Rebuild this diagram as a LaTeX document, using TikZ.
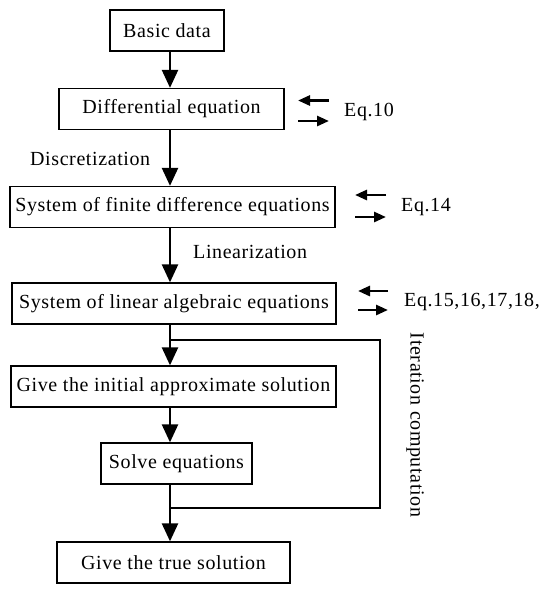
\documentclass[tikz,border=0pt]{standalone}
\usepackage{fontspec}
\setmainfont{Liberation Serif}[LetterSpace=3]
\usetikzlibrary{arrows.meta}
\begin{document}
\begin{tikzpicture}[x=1pt,y=-1pt,
  box/.style={draw,line width=1.3pt,minimum height=41pt,inner sep=0pt,font=\fontsize{20}{22}\selectfont},
  lbl/.style={font=\fontsize{20}{22}\selectfont,inner sep=0pt},
  flow/.style={line width=2.4pt,-{Triangle[length=18pt,width=16pt]}},
  small/.style={line width=2.7pt,-{Triangle[length=12pt,width=10pt]}},
  loop/.style={line width=1.5pt}]
\useasboundingbox (0,0) rectangle (550,595);
\node[box,minimum width=114pt] (b1) at (167,30.5) {Basic data};
\node[box,minimum width=225pt] (b2) at (171.5,109) {Differential equation};
\node[box,minimum width=325pt] (b3) at (172.5,207) {System of finite difference equations};
\node[box,minimum width=324pt] (b4) at (174,303.5) {System of linear algebraic equations};
\node[box,minimum width=325pt] (b5) at (173.5,386.5) {Give the initial approximate solution};
\node[box,minimum width=151pt] (b6) at (176.5,463.5) {Solve equations};
\node[box,minimum width=233pt] (b7) at (173.5,562.5) {Give the true solution};
\coordinate (sp) at (170,0);
\draw[flow] (b1.south -| sp) -- (b2.north -| sp);
\draw[flow] (b2.south -| sp) -- (b3.north -| sp);
\draw[flow] (b3.south -| sp) -- (b4.north -| sp);
\draw[flow] (b4.south -| sp) -- (b5.north -| sp);
\draw[flow] (b5.south -| sp) -- (b6.north -| sp);
\draw[flow] (b6.south -| sp) -- (b7.north -| sp);
\node[lbl,anchor=west] (disc) at (30,159) {Discretization};
\node[lbl,anchor=west] (lin) at (193,252) {Linearization};
% loop
\coordinate (l1) at (170,340);
\coordinate (l2) at (380,340);
\coordinate (l3) at (380,508);
\coordinate (l4) at (170,508);
\draw[loop] (l1) -- (l2) -- (l3) -- (l4);
\node[lbl,rotate=-90] (iter) at (415,425) {Iteration computation};
% equation arrows
\coordinate (a1l) at (298,100.5); \coordinate (a1r) at (329,100.5);
\coordinate (a2l) at (298,121); \coordinate (a2r) at (329,121);
\draw[small] (a1r) -- (a1l);
\draw[small] (a2l) -- (a2r);
\node[lbl,anchor=west] (e1) at (344,112) {Eq.10};
\coordinate (c1l) at (355,195); \coordinate (c1r) at (386,195);
\coordinate (c2l) at (355,217); \coordinate (c2r) at (386,217);
\draw[small] (c1r) -- (c1l);
\draw[small] (c2l) -- (c2r);
\node[lbl,anchor=west] (e2) at (401,207) {Eq.14};
\coordinate (d1l) at (358,291); \coordinate (d1r) at (388,291);
\coordinate (d2l) at (358,310); \coordinate (d2r) at (388,310);
\draw[small] (d1r) -- (d1l);
\draw[small] (d2l) -- (d2r);
\node[lbl,anchor=west] (e3) at (404,302) {Eq.15,16,17,18,};
\end{tikzpicture}
\end{document}
